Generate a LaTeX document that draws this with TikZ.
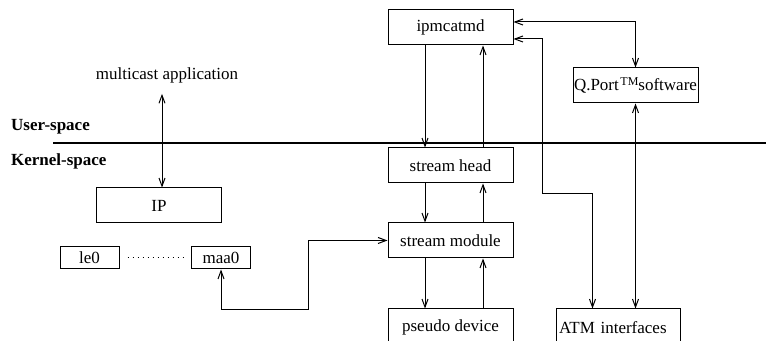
\documentclass[tikz,border=0pt]{standalone}
\usepackage{fontspec}
\setmainfont{Liberation Serif}
\usetikzlibrary{arrows.meta}
\begin{document}
\begin{tikzpicture}[x=0.5pt,y=-0.5pt,line width=0.5pt,
    font=\fontsize{8.5}{10}\selectfont,
    box/.style={draw,minimum width=62.5pt,minimum height=17.5pt,inner sep=1pt},
    smallbox/.style={draw,minimum width=29.5pt,minimum height=11pt,inner sep=1pt},
    arr/.style={-{Straight Barb[length=4pt,width=3pt]}},
    biarr/.style={{Straight Barb[length=4pt,width=3pt]}-{Straight Barb[length=4pt,width=3pt]}}]
    \useasboundingbox (0,0) rectangle (766,341);
    \node[box,minimum width=57.5pt,inner sep=0.5pt] (qport) at (635.5,85.5) {Q.Port\hspace{0.8pt}\raisebox{0.55ex}{\fontsize{6}{7}\selectfont TM}software};
    \node[box] (ipm) at (450.5,27.5) {ipmcatmd};
    \node[box] (shead) at (450.5,165.5) {stream head};
    \node[box] (smod) at (450.5,240.5) {stream module};
    \node[box,minimum height=18.5pt] (pseudo) at (450.5,327.5) {pseudo device};
    \node[box,minimum width=62pt,minimum height=18.5pt,text width=59pt,align=left] (atm) at (618,327.5) {ATM interfaces};
    \node[box] (ip) at (159,205.5) {IP};
    \node[smallbox] (le0) at (89.5,258) {le0};
    \node[smallbox] (maa0) at (221,258) {maa0};
    \node (mc) at (167,75) {multicast application};
    \node[anchor=west,font=\fontsize{8.5}{10}\selectfont\bfseries] (user) at (4,127) {User-space};
    \node[anchor=west,font=\fontsize{8.5}{10}\selectfont\bfseries] (kernel) at (4,161) {Kernel-space};
    \draw[line width=1.1pt] (53,143) -- (766,143);
    \draw[biarr] ([yshift=2.75pt]ipm.east) -| (qport.north);
    \draw[biarr] ([yshift=-5.75pt]ipm.east) -| (542,194) -| ([xshift=18.5pt]atm.north west);
    \draw[biarr] (qport.south) -- (qport.south |- atm.north);
    \draw[arr] ([xshift=-12.75pt]ipm.south) -- ([xshift=-12.75pt]shead.north);
    \draw[arr] ([xshift=16.25pt]shead.north) -- ([xshift=16.25pt]ipm.south);
    \draw[arr] ([xshift=-12.75pt]shead.south) -- ([xshift=-12.75pt]smod.north);
    \draw[arr] ([xshift=16.25pt]smod.north) -- ([xshift=16.25pt]shead.south);
    \draw[arr] ([xshift=-12.75pt]smod.south) -- ([xshift=-12.75pt]pseudo.north);
    \draw[arr] ([xshift=16.25pt]pseudo.north) -- ([xshift=16.25pt]smod.south);
    \draw[biarr] ([xshift=1.5pt]ip.north) -- ([xshift=-2.5pt,yshift=-2pt]mc.south);
    \draw[dotted] ([xshift=4pt]le0.east) -- ([xshift=-3.5pt]maa0.west);
    \draw[biarr] (maa0.south) -- ++(0,40) -| ([xshift=-39.5pt]smod.west) -- (smod.west);
\end{tikzpicture}
\end{document}
